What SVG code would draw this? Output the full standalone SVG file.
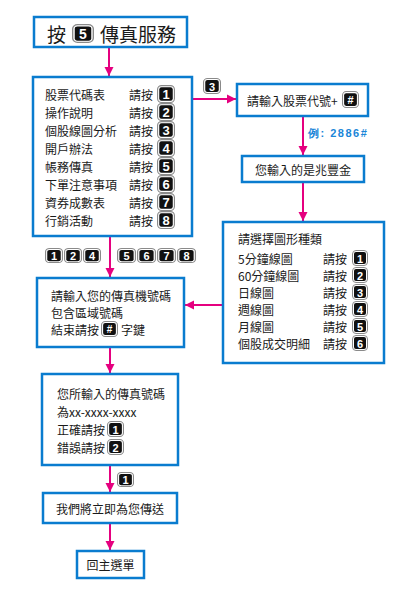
<svg xmlns="http://www.w3.org/2000/svg" xmlns:xlink="http://www.w3.org/1999/xlink" width="405" height="616" viewBox="0 0 405 616">
<defs>
<style>
.box{fill:#fff;stroke:#0a7ccf;stroke-width:2.5}
.t{font-family:"Noto Sans CJK TC","Noto Sans CJK SC",sans-serif;font-size:12px;fill:#1a1a1a;dominant-baseline:central}
.big{font-size:19px}
.kd{font-family:"Liberation Sans",Arial,sans-serif;font-weight:bold;fill:#fff;text-anchor:middle;dominant-baseline:central}
.ex{font-family:"Liberation Sans",Arial,sans-serif;font-weight:bold;font-size:11px;fill:#1a86d8;letter-spacing:1.5px;dominant-baseline:central}
.c{fill:none;stroke:#e5007f;stroke-width:2}
</style>
<marker id="ah" markerUnits="userSpaceOnUse" markerWidth="10" markerHeight="10" viewBox="0 0 10 10" refX="9" refY="5" orient="auto">
<path d="M0,0.5 L9,5 L0,9.5 Z" fill="#e5007f"/>
</marker>
<symbol id="key" viewBox="0 0 16 16" preserveAspectRatio="none">
<rect x="0.5" y="0.5" width="15" height="15" rx="3.5" fill="#fff" stroke="#8a8a8a" stroke-width="1"/>
<rect x="2" y="2" width="12" height="12" rx="2" fill="#111"/>
</symbol>
</defs>
<rect width="405" height="616" fill="#fff"/>

<g id="connectors">
<line class="c" x1="109" y1="48" x2="109" y2="76" marker-end="url(#ah)"/>
<line class="c" x1="193" y1="99" x2="236" y2="99" marker-end="url(#ah)"/>
<line class="c" x1="303" y1="117" x2="303" y2="155" marker-end="url(#ah)"/>
<line class="c" x1="303" y1="183" x2="303" y2="221" marker-end="url(#ah)"/>
<line class="c" x1="110" y1="237" x2="110" y2="277" marker-end="url(#ah)"/>
<line class="c" x1="222" y1="305" x2="185" y2="305" marker-end="url(#ah)"/>
<line class="c" x1="110" y1="348" x2="110" y2="373" marker-end="url(#ah)"/>
<line class="c" x1="110" y1="466" x2="110" y2="492" marker-end="url(#ah)"/>
<line class="c" x1="110" y1="524" x2="110" y2="550" marker-end="url(#ah)"/>
</g>

<g id="title">
<rect class="box" x="34" y="17" width="153" height="30"/>
<text class="t big" x="47" y="33">按</text>
<use xlink:href="#key" x="72" y="24" width="22" height="19"/>
<text class="kd" x="83" y="33.5" font-size="14">5</text>
<text class="t big" x="100" y="33">傳真服務</text>
</g>

<g id="menu">
<rect class="box" x="33" y="77" width="159" height="159"/>
<text class="t" x="45" y="94">股票代碼表</text>
<text class="t" x="45" y="112">操作說明</text>
<text class="t" x="45" y="130">個股線圖分析</text>
<text class="t" x="45" y="148">開戶辦法</text>
<text class="t" x="45" y="166">帳務傳真</text>
<text class="t" x="45" y="184">下單注意事項</text>
<text class="t" x="45" y="202">資券成數表</text>
<text class="t" x="45" y="220">行銷活動</text>
<text class="t" x="129" y="94">請按</text>
<text class="t" x="129" y="112">請按</text>
<text class="t" x="129" y="130">請按</text>
<text class="t" x="129" y="148">請按</text>
<text class="t" x="129" y="166">請按</text>
<text class="t" x="129" y="184">請按</text>
<text class="t" x="129" y="202">請按</text>
<text class="t" x="129" y="220">請按</text>
<use xlink:href="#key" x="157" y="85" width="18" height="18"/>
<use xlink:href="#key" x="157" y="103" width="18" height="18"/>
<use xlink:href="#key" x="157" y="121" width="18" height="18"/>
<use xlink:href="#key" x="157" y="139" width="18" height="18"/>
<use xlink:href="#key" x="157" y="157" width="18" height="18"/>
<use xlink:href="#key" x="157" y="175" width="18" height="18"/>
<use xlink:href="#key" x="157" y="193" width="18" height="18"/>
<use xlink:href="#key" x="157" y="211" width="18" height="18"/>
<text class="kd" x="166" y="94.5" font-size="13">1</text>
<text class="kd" x="166" y="112.5" font-size="13">2</text>
<text class="kd" x="166" y="130.5" font-size="13">3</text>
<text class="kd" x="166" y="148.5" font-size="13">4</text>
<text class="kd" x="166" y="166.5" font-size="13">5</text>
<text class="kd" x="166" y="184.5" font-size="13">6</text>
<text class="kd" x="166" y="202.5" font-size="13">7</text>
<text class="kd" x="166" y="220.5" font-size="13">8</text>
</g>

<g id="label-3">
<use xlink:href="#key" x="203" y="78" width="18" height="16"/>
<text class="kd" x="212" y="86.5" font-size="11">3</text>
</g>

<g id="stock-input">
<rect class="box" x="237" y="84" width="131" height="32"/>
<text class="t" x="247" y="100">請輸入股票代號+</text>
<use xlink:href="#key" x="342" y="91" width="17" height="17"/>
<text class="kd" x="350.5" y="99.5" font-size="11">#</text>
</g>

<text id="example" class="ex" x="308" y="133">例: 2886#</text>

<g id="confirm-stock">
<rect class="box" x="242" y="156" width="122" height="26"/>
<text class="t" x="303" y="169" text-anchor="middle">您輸入的是兆豐金</text>
</g>

<g id="chart-menu">
<rect class="box" x="223" y="222" width="161" height="141"/>
<text class="t" x="238" y="238">請選擇圖形種類</text>
<text class="t" x="238" y="258">5分鐘線圖</text>
<text class="t" x="238" y="275">60分鐘線圖</text>
<text class="t" x="238" y="292">日線圖</text>
<text class="t" x="238" y="309">週線圖</text>
<text class="t" x="238" y="326">月線圖</text>
<text class="t" x="238" y="343">個股成交明細</text>
<text class="t" x="323" y="258">請按</text>
<text class="t" x="323" y="275">請按</text>
<text class="t" x="323" y="292">請按</text>
<text class="t" x="323" y="309">請按</text>
<text class="t" x="323" y="326">請按</text>
<text class="t" x="323" y="343">請按</text>
<use xlink:href="#key" x="352" y="250" width="16" height="16"/>
<use xlink:href="#key" x="352" y="267" width="16" height="16"/>
<use xlink:href="#key" x="352" y="284" width="16" height="16"/>
<use xlink:href="#key" x="352" y="301" width="16" height="16"/>
<use xlink:href="#key" x="352" y="318" width="16" height="16"/>
<use xlink:href="#key" x="352" y="335" width="16" height="16"/>
<text class="kd" x="360" y="258.5" font-size="11">1</text>
<text class="kd" x="360" y="275.5" font-size="11">2</text>
<text class="kd" x="360" y="292.5" font-size="11">3</text>
<text class="kd" x="360" y="309.5" font-size="11">4</text>
<text class="kd" x="360" y="326.5" font-size="11">5</text>
<text class="kd" x="360" y="343.5" font-size="11">6</text>
</g>

<g id="label-keys">
<use xlink:href="#key" x="45" y="248" width="18" height="15"/>
<use xlink:href="#key" x="64" y="248" width="18" height="15"/>
<use xlink:href="#key" x="83" y="248" width="18" height="15"/>
<use xlink:href="#key" x="117" y="248" width="19" height="15"/>
<use xlink:href="#key" x="137" y="248" width="19" height="15"/>
<use xlink:href="#key" x="157" y="248" width="19" height="15"/>
<use xlink:href="#key" x="177" y="248" width="19" height="15"/>
<text class="kd" x="54" y="256" font-size="11">1</text>
<text class="kd" x="73" y="256" font-size="11">2</text>
<text class="kd" x="92" y="256" font-size="11">4</text>
<text class="kd" x="126.5" y="256" font-size="11">5</text>
<text class="kd" x="146.5" y="256" font-size="11">6</text>
<text class="kd" x="166.5" y="256" font-size="11">7</text>
<text class="kd" x="186.5" y="256" font-size="11">8</text>
</g>

<g id="fax-input">
<rect class="box" x="37" y="278" width="147" height="69"/>
<text class="t" x="51" y="295">請輸入您的傳真機號碼</text>
<text class="t" x="51" y="312">包含區域號碼</text>
<text class="t" x="51" y="329">結束請按</text>
<use xlink:href="#key" x="101" y="321" width="17" height="16"/>
<text class="kd" x="109.5" y="329.5" font-size="10">#</text>
<text class="t" x="121" y="329">字鍵</text>
</g>

<g id="fax-confirm">
<rect class="box" x="42" y="374" width="136" height="91"/>
<text class="t" x="57" y="393">您所輸入的傳真號碼</text>
<text class="t" x="57" y="411">為xx-xxxx-xxxx</text>
<text class="t" x="57" y="429">正確請按</text>
<text class="t" x="57" y="447">錯誤請按</text>
<use xlink:href="#key" x="107" y="421" width="17" height="16"/>
<use xlink:href="#key" x="107" y="439" width="17" height="16"/>
<text class="kd" x="115.5" y="429.5" font-size="11">1</text>
<text class="kd" x="115.5" y="447.5" font-size="11">2</text>
</g>

<g id="label-1">
<use xlink:href="#key" x="117" y="472" width="17" height="15"/>
<text class="kd" x="125.5" y="480" font-size="11">1</text>
</g>

<g id="sending">
<rect class="box" x="43" y="493" width="134" height="30"/>
<text class="t" x="110" y="508" text-anchor="middle">我們將立即為您傳送</text>
</g>

<g id="home">
<rect class="box" x="77" y="551" width="67" height="27"/>
<text class="t" x="110.5" y="564.5" text-anchor="middle">回主選單</text>
</g>
</svg>
